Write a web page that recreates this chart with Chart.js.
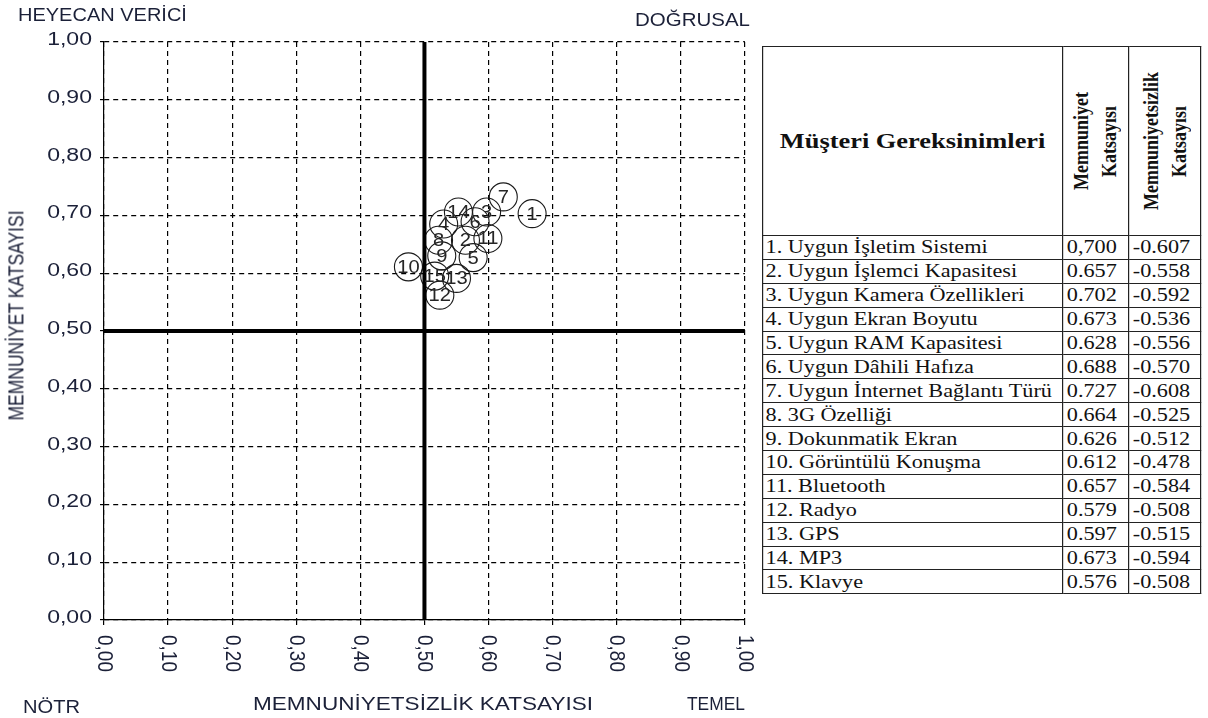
<!DOCTYPE html>
<html lang="tr">
<head>
<meta charset="utf-8">
<script src="https://cdn.jsdelivr.net/npm/chart.js@4.4.1/dist/chart.umd.min.js"></script>
<style>
  html, body { margin: 0; padding: 0; background: #fff; }
  #wrap { position: relative; width: 1208px; height: 718px; overflow: hidden; }
  #chartBox { position: absolute; left: 0; top: 0; width: 760px; height: 718px; }
  .lbl { position: absolute; font-family: "Liberation Sans", Arial, sans-serif; font-size: 18px; line-height: 21px;
         color: #1b2038; white-space: nowrap; transform-origin: left top; }
  #yTitle { transform-origin: center center; }
  table { position: absolute; left: 762px; top: 46px; width: 365px; border-collapse: collapse; table-layout: fixed;
          transform: scaleX(1.2); transform-origin: left top;
          font-family: "Liberation Serif", "Times New Roman", serif; font-size: 18.5px; color: #111; }
  td, th { border: 1.4px solid #222; padding: 0 2px; height: 22.9px; line-height: 22px; white-space: nowrap; overflow: hidden; }
  th { font-weight: bold; height: 188px; }
  th.main { font-size: 22px; text-align: center; }
  th.rot { padding: 0; }
  th.rot div { writing-mode: vertical-rl; transform: rotate(180deg); margin: 0 auto; font-size: 18px; line-height: 23px; text-align: center; }
  td.num { padding-left: 3px; }
</style>
</head>
<body>
<div id="wrap">
  <div id="chartBox"><canvas id="kano"></canvas></div>
  <div class="lbl" data-w="169" style="left:18px; top:4.6px;">HEYECAN VERİCİ</div>
  <div class="lbl" data-w="115" style="left:635px; top:9.6px;">DOĞRUSAL</div>
  <div class="lbl" data-w="57"  style="left:23px; top:696.6px;">NÖTR</div>
  <div class="lbl" data-w="340" style="left:253px; top:693.6px;">MEMNUNİYETSİZLİK KATSAYISI</div>
  <div class="lbl" data-w="58"  style="left:687px; top:693.6px;">TEMEL</div>
  <div class="lbl" id="yTitle">MEMNUNİYET KATSAYISI</div>
  <table id="tbl">
    <colgroup><col style="width:250px"><col style="width:55px"><col style="width:60px"></colgroup>
  </table>
</div>
<script>
// ── Veriler ────────────────────────────────────────────────────────────────
const NEEDS = [
  '1. Uygun İşletim Sistemi', '2. Uygun İşlemci Kapasitesi', '3. Uygun Kamera Özellikleri',
  '4. Uygun Ekran Boyutu', '5. Uygun RAM Kapasitesi', '6. Uygun Dâhili  Hafıza',
  '7. Uygun İnternet Bağlantı Türü', '8. 3G Özelliği', '9. Dokunmatik Ekran',
  '10. Görüntülü Konuşma', '11. Bluetooth', '12. Radyo', '13. GPS', '14. MP3', '15. Klavye',
];
const SAT_TEXT    = ['0,700', '0.657', '0.702', '0.673', '0.628', '0.688', '0.727', '0.664',
                     '0.626', '0.612', '0.657', '0.579', '0.597', '0.673', '0.576'];
const DISSAT_TEXT = ['-0.607', '-0.558', '-0.592', '-0.536', '-0.556', '-0.570', '-0.608', '-0.525',
                     '-0.512', '-0.478', '-0.584', '-0.508', '-0.515', '-0.594', '-0.508'];

// noktalar grafikte çizildikleri yerlerden okundu
const POINT_NO = ['1', '2', '3', '4', '5', '6', '7', '8', '9', '10', '11', '12', '13', '14', '15'];
const POINT_X  = [0.668, 0.564, 0.597, 0.530, 0.576, 0.579, 0.623, 0.522, 0.527, 0.475, 0.599, 0.524, 0.550, 0.553, 0.516];
const POINT_Y  = [0.703, 0.657, 0.706, 0.685, 0.627, 0.689, 0.732, 0.657, 0.630, 0.611, 0.660, 0.562, 0.591, 0.706, 0.595];

const TICKS = [0, 0.1, 0.2, 0.3, 0.4, 0.5, 0.6, 0.7, 0.8, 0.9, 1.0];
const fmt = v => v.toFixed(2).replace('.', ',');
const FONT = '"Liberation Sans", Arial, sans-serif';
const TXT  = '#1b2038';

// ── Etiketler: genişliği resimdeki ile eşle ────────────────────────────────
document.querySelectorAll('.lbl[data-w]').forEach(el => {
  const w = el.getBoundingClientRect().width;
  el.style.transform = `scaleX(${(+el.dataset.w / w).toFixed(3)})`;
});
(() => {
  const el = document.getElementById('yTitle');
  const r = el.getBoundingClientRect();
  el.style.left = (17 - r.width / 2) + 'px';
  el.style.top  = (315 - r.height / 2) + 'px';
  el.style.transform = `rotate(-90deg) scale(${(210 / r.width).toFixed(3)}, 1.2)`;
})();

// ── Tablo ──────────────────────────────────────────────────────────────────
const tbl = document.getElementById('tbl');
tbl.insertAdjacentHTML('beforeend',
  '<tr><th class="main">Müşteri Gereksinimleri</th>' +
  '<th class="rot"><div>Memnuniyet<br>Katsayısı</div></th>' +
  '<th class="rot"><div>Memnuniyetsizlik<br>Katsayısı</div></th></tr>' +
  NEEDS.map((n, i) => `<tr><td>${n}</td><td class="num">${SAT_TEXT[i]}</td><td class="num">${DISSAT_TEXT[i]}</td></tr>`).join(''));

// ── Eklentiler ─────────────────────────────────────────────────────────────
function stretchedText(ctx, text, x, y, sx, align) {
  ctx.save();
  ctx.translate(x, y);
  ctx.scale(sx, 1);
  ctx.textAlign = align;
  ctx.fillText(text, 0, 0);
  ctx.restore();
}

const kanoDecor = {
  id: 'kanoDecor',
  afterDatasetsDraw(chart) {
    const { ctx, chartArea: a, scales: { x, y } } = chart;
    ctx.save();
    ctx.strokeStyle = '#000';
    ctx.lineWidth = 4;
    ctx.beginPath();
    ctx.moveTo(x.getPixelForValue(0.5), a.top);
    ctx.lineTo(x.getPixelForValue(0.5), a.bottom);
    ctx.moveTo(a.left, y.getPixelForValue(0.5));
    ctx.lineTo(a.right, y.getPixelForValue(0.5));
    ctx.stroke();

    // nokta numaraları
    ctx.fillStyle = '#262626';
    ctx.font = `18px ${FONT}`;
    ctx.textBaseline = 'middle';
    chart.getDatasetMeta(0).data.forEach((pt, i) => stretchedText(ctx, POINT_NO[i], pt.x, pt.y + 1, 1.12, 'center'));

    // y ekseni etiketleri
    ctx.fillStyle = TXT;
    TICKS.forEach(t => stretchedText(ctx, fmt(t), a.left - 12, y.getPixelForValue(t) - 2, 1.28, 'right'));

    // x ekseni etiketleri (saat yönünde döndürülmüş)
    ctx.font = `19px ${FONT}`;
    ctx.textAlign = 'left';
    TICKS.forEach(t => {
      ctx.save();
      ctx.translate(x.getPixelForValue(t), a.bottom + 15);
      ctx.rotate(Math.PI / 2);
      ctx.scale(1, 1.2);
      ctx.fillText(fmt(t), 0, 0);
      ctx.restore();
    });
    ctx.restore();
  },
};

// ── Grafik ─────────────────────────────────────────────────────────────────
new Chart(document.getElementById('kano'), {
  type: 'scatter',
  data: {
    datasets: [{
      data: POINT_X.map((v, i) => ({ x: v, y: POINT_Y[i] })),
      pointStyle: 'circle',
      pointRadius: 14,
      pointHoverRadius: 14,
      backgroundColor: 'rgba(255,255,255,0)',
      borderColor: '#1a1a1a',
      borderWidth: 1.1,
    }],
  },
  options: {
    responsive: true, maintainAspectRatio: false, animation: false,
    layout: { padding: { left: 0, top: 42, right: 12, bottom: 0 } },
    plugins: { legend: { display: false }, tooltip: { enabled: false } },
    scales: {
      x: {
        type: 'linear', min: 0, max: 1,
        afterBuildTicks: s => { s.ticks = TICKS.map(v => ({ value: v })); },
        afterFit: s => { s.height = 98; },
        grid: { color: '#000', lineWidth: 1.2, tickLength: 5 },
        border: { display: true, color: '#000', width: 1.2, dash: [5, 4] },
        ticks: { display: false },
      },
      y: {
        type: 'linear', min: 0, max: 1,
        afterBuildTicks: s => { s.ticks = TICKS.map(v => ({ value: v })); },
        afterFit: s => { s.width = 104; },
        grid: { color: '#000', lineWidth: 1.2, tickLength: 4 },
        border: { display: true, color: '#000', width: 1.2, dash: [5, 4] },
        ticks: { display: false },
      },
    },
  },
  plugins: [kanoDecor],
});
</script>
</body>
</html>
